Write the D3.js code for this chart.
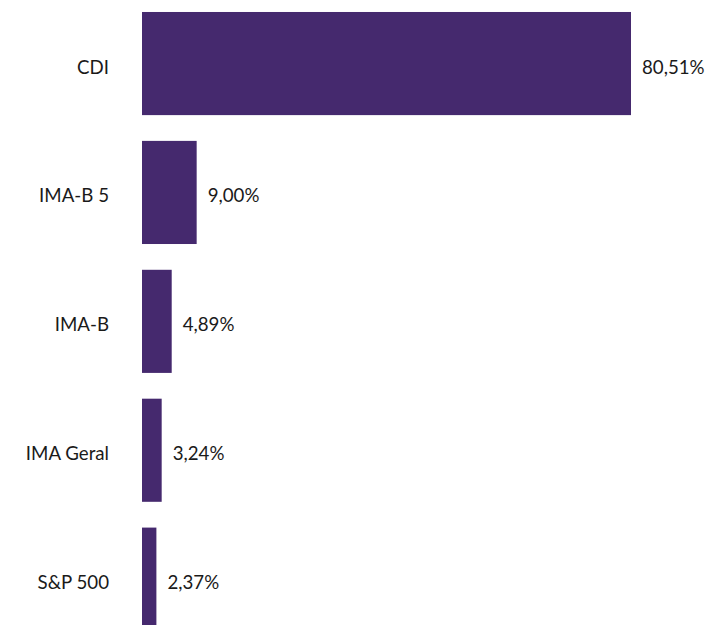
<!DOCTYPE html>
<html><head><meta charset="utf-8">
<script src="https://cdn.jsdelivr.net/npm/d3@7"></script>
<style>body{margin:0;background:#fff;} svg{display:block;font-family:Lato,sans-serif;}</style>
</head><body>
<svg id="chart" width="708" height="625"></svg>
<script>
const categories = ["CDI","IMA-B 5","IMA-B","IMA Geral","S&P 500"];
const values = [80.51, 9.00, 4.89, 3.24, 2.37];
const valueLabels = ["80,51%","9,00%","4,89%","3,24%","2,37%"];

const svg = d3.select("#chart");
const x0 = 142;
const fs = 18.7;
const x = d3.scaleLinear().domain([0, 80.51]).range([x0, 631]);
const y = d3.scaleBand().domain(categories).range([-0.9, 643.6]).paddingInner(0.2).paddingOuter(0.1);
const color = "#45296e";

svg.selectAll("rect.bar").data(categories).join("rect")
  .attr("class","bar")
  .attr("x", x0)
  .attr("y", d => y(d))
  .attr("width", (d,i) => x(values[i]) - x0)
  .attr("height", y.bandwidth())
  .attr("fill", color);

const axis = d3.axisLeft(y).tickSize(0).tickPadding(33);
const g = svg.append("g").attr("transform", `translate(${x0},4)`).call(axis);
g.select(".domain").remove();
g.selectAll("text").attr("font-size", fs).attr("font-family","Lato, sans-serif").attr("fill","#1a1a1a");

svg.selectAll("text.val").data(categories).join("text")
  .attr("class","val")
  .attr("x", (d,i) => x(values[i]) + 11)
  .attr("y", d => y(d) + y.bandwidth()/2 + 4)
  .attr("dy","0.32em")
  .attr("font-size", fs)
  .attr("fill","#1a1a1a")
  .text((d,i) => valueLabels[i]);
</script>
</body></html>
